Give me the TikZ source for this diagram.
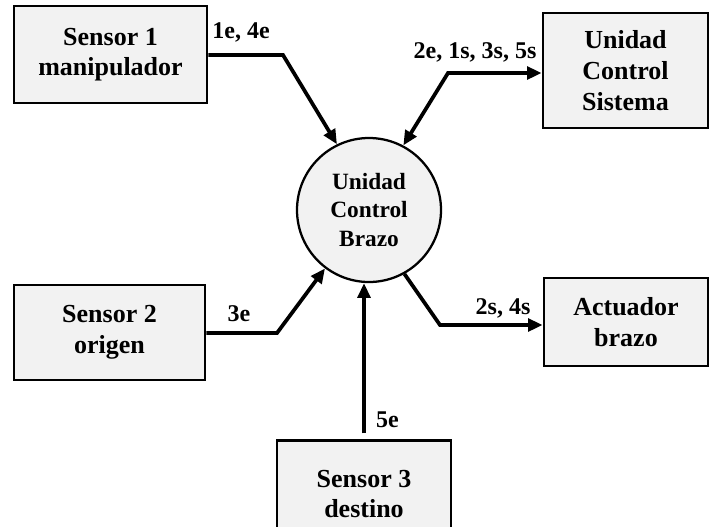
\documentclass[tikz,border=0pt]{standalone}
\usepackage{fontspec}
\setmainfont{Liberation Serif}
\usetikzlibrary{arrows.meta, shapes.geometric}

\begin{document}
\begin{tikzpicture}[x=0.75pt, y=-0.75pt,
    caja/.style={draw, line width=2pt, fill=gray!10, inner sep=0pt, align=center,
                 font=\fontsize{19.5}{23}\selectfont\bfseries},
    unidad/.style={circle, draw, line width=1.7pt, fill=gray!10, inner sep=0pt,
                   minimum size=108pt, align=center, font=\fontsize{17.5}{21.5}\selectfont\bfseries},
    punta/.style={Triangle[length=11pt, width=9.5pt]},
    flujo/.style={line width=2.8pt, -{Triangle[length=11pt, width=9.5pt]}},
    etiq/.style={font=\fontsize{18}{20}\selectfont\bfseries, inner sep=0pt}]
    \clip (0,0) rectangle (709,526);

    % Proceso central
    \node[unidad] (ubc) at (369,210) {Unidad\\Control\\Brazo};

    % Entidades externas
    \node[caja, minimum width=144.75pt, minimum height=72.75pt] (sen1) at (110.5,54.5) {Sensor 1\\manipulador};
    \node[caja, minimum width=123.75pt, minimum height=86.25pt] (ucs) at (625.5,70.5) {Unidad\\Control\\Sistema};
    \node[caja, minimum width=143.25pt, minimum height=71.25pt] (sen2) at (109.5,332.5) {Sensor 2\\origen};
    \node[caja, minimum width=123pt, minimum height=66pt] (act) at (626,322) {Actuador\\brazo};
    \node[caja, minimum width=130.5pt, minimum height=80pt] (sen3) at (364,494) {Sensor 3\\destino};

    % Puntos de quiebre
    \coordinate (k1) at (283,55);
    \coordinate (k2) at (448,73);
    \coordinate (k3) at (277,333);
    \coordinate (k5) at (440,325);

    % Flujos de datos
    \draw[flujo] (sen1.east |- k1) -- (k1) -- (ubc.116);
    \draw[flujo, {Triangle[length=11pt, width=9.5pt]}-{Triangle[length=11pt, width=9.5pt]}]
        (ubc.62) -- (k2) -- (k2 -| ucs.west);
    \draw[flujo] (sen2.east |- k3) -- (k3) -- (ubc.233);
    \draw[flujo, shorten <=4.5pt] (sen3.north) -- (sen3.north |- ubc.south);
    \draw[flujo] (ubc.299) -- (k5) -- (k5 -| act.west);

    % Etiquetas
    \node[etiq] (l1) at (241,32) {1e, 4e};
    \node[etiq] (l2) at (475,52) {2e, 1s, 3s, 5s};
    \node[etiq] (l3) at (239,314) {3e};
    \node[etiq] (l4) at (503,308) {2s, 4s};
    \node[etiq] (l5) at (387.5,420) {5e};
\end{tikzpicture}
\end{document}
